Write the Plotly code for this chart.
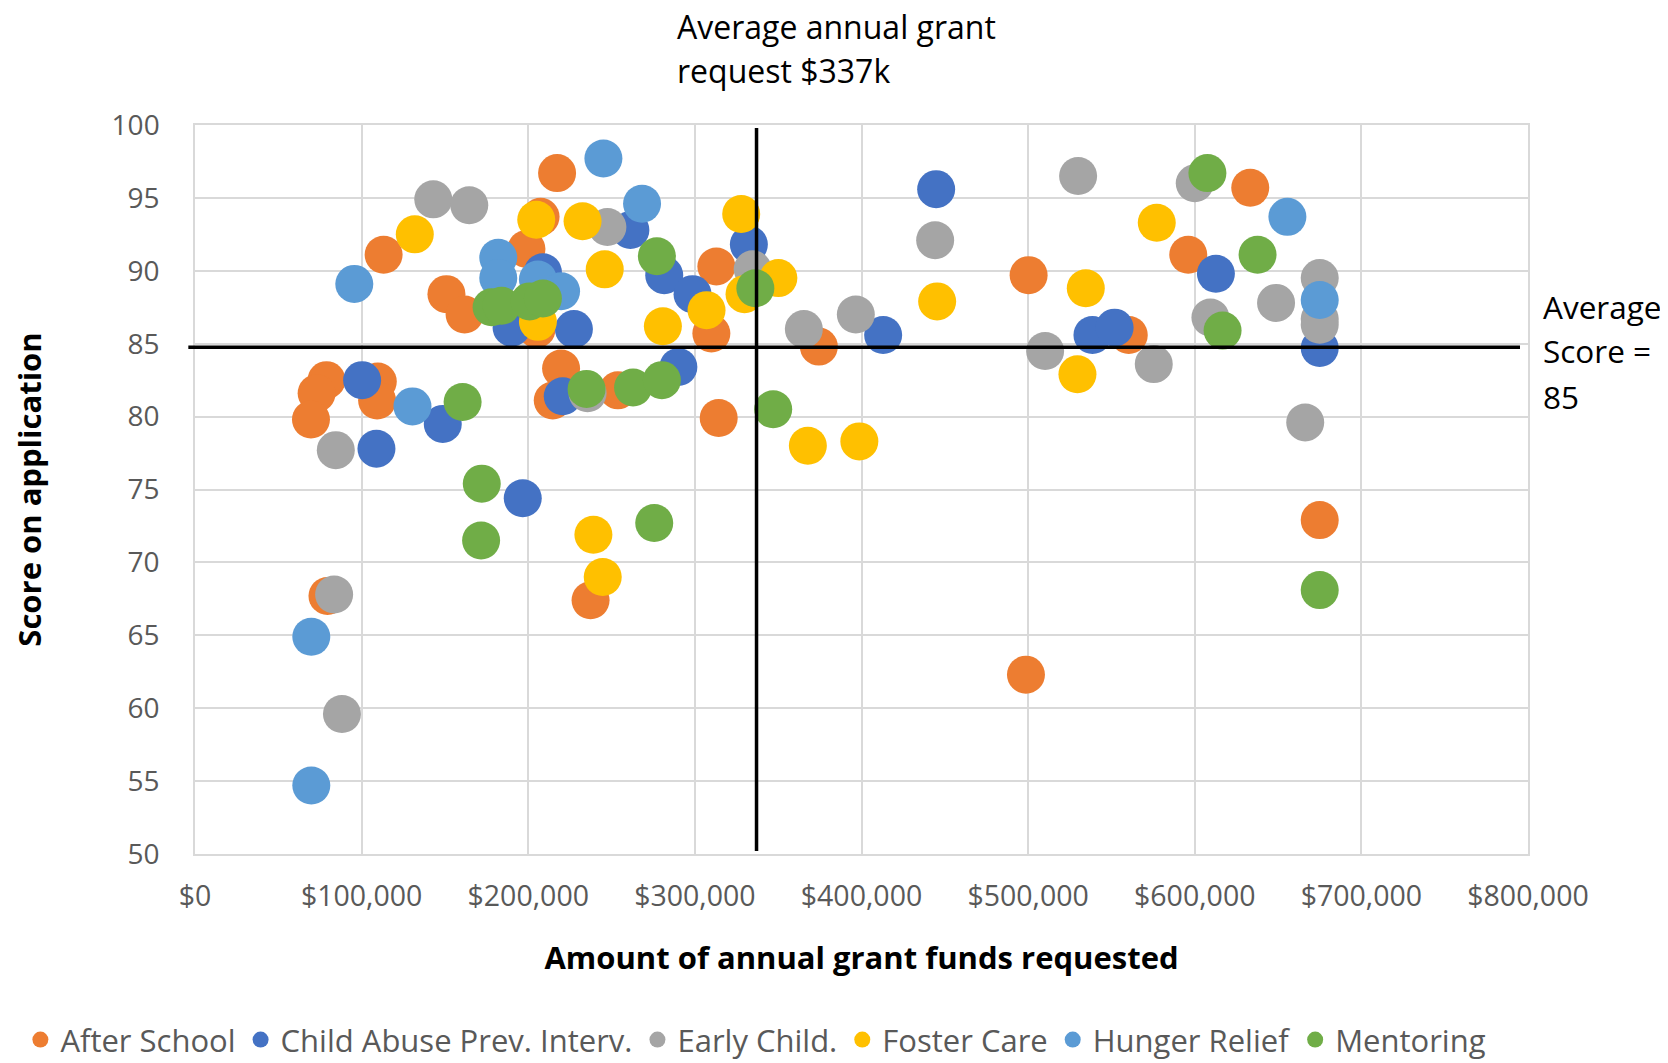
import plotly.graph_objects as go

# ---------------- data ----------------
series_names = ["After School", "Child Abuse Prev. Interv.", "Early Child.",
                "Foster Care", "Hunger Relief", "Mentoring"]
series_colors = ["#ED7D31", "#4472C4", "#A5A5A5", "#FFC000", "#5B9BD5", "#70AD47"]

after_school_x = [217300, 207400, 113200, 198900, 150900, 161800, 205000, 78900, 73000,
                  69600, 109700, 109300, 219700, 214700, 79500, 237400, 314300, 309900,
                  312900, 253800, 374400, 500300, 560400, 596100, 633300, 675000, 498700]
after_school_y = [96.7, 93.7, 91.1, 91.5, 88.4, 87.0, 86.0, 82.5, 81.6,
                  79.8, 82.4, 81.1, 83.3, 81.1, 67.7, 67.4, 79.9, 85.7,
                  90.3, 81.8, 84.8, 89.7, 85.6, 91.1, 95.7, 72.9, 62.3]

child_abuse_x = [208800, 190000, 227400, 100300, 148700, 108900, 196700, 220700, 261300,
                 281600, 298600, 332400, 290100, 413000, 444800, 538600, 551900, 612700, 675000]
child_abuse_y = [89.9, 86.1, 86.0, 82.5, 79.5, 77.8, 74.4, 81.4, 92.8,
                 89.7, 88.4, 91.8, 83.4, 85.6, 95.6, 85.6, 86.1, 89.8, 84.7]

early_child_x = [143000, 164600, 84500, 83500, 88200, 247500, 235600, 334700, 365400,
                 396600, 444200, 530000, 510200, 575400, 600000, 609400, 648800, 666300,
                 675000, 675000, 675000]
early_child_y = [94.9, 94.5, 77.7, 67.8, 59.6, 93.0, 81.6, 90.1, 86.0,
                 87.0, 92.1, 96.5, 84.5, 83.6, 96.0, 86.8, 87.8, 79.6,
                 89.5, 86.7, 86.3]

foster_care_x = [131900, 204800, 232600, 245900, 205800, 280800, 307000, 327800, 350100,
                 329800, 367800, 398700, 239100, 244700, 445400, 534600, 529600, 577200]
foster_care_y = [92.5, 93.5, 93.4, 90.1, 86.5, 86.2, 87.3, 93.9, 89.5,
                 88.4, 78.0, 78.3, 71.9, 69.0, 87.9, 88.8, 82.9, 93.3]

hunger_relief_x = [95600, 182000, 182000, 205800, 219700, 130500, 69800, 69800,
                   245100, 268300, 655600, 675000]
hunger_relief_y = [89.1, 90.9, 89.5, 89.4, 88.6, 80.7, 64.9, 54.7,
                   97.7, 94.6, 93.7, 88.0]

mentoring_x = [178000, 184000, 200800, 208800, 160600, 172100, 171700, 235000, 262900,
               280200, 277200, 336300, 347000, 275600, 607600, 637700, 616700, 675000]
mentoring_y = [87.5, 87.6, 87.9, 88.1, 81.0, 75.4, 71.5, 81.9, 82.0,
               82.5, 91.0, 88.8, 80.5, 72.7, 96.7, 91.1, 85.9, 68.1]

avg_request = 337000
avg_score = 84.75

x_tick_vals = [0, 100000, 200000, 300000, 400000, 500000, 600000, 700000, 800000]
x_tick_text = ["$0", "$100,000", "$200,000", "$300,000", "$400,000",
               "$500,000", "$600,000", "$700,000", "$800,000"]
y_tick_vals = [50, 55, 60, 65, 70, 75, 80, 85, 90, 95, 100]

all_x = [after_school_x, child_abuse_x, early_child_x, foster_care_x, hunger_relief_x, mentoring_x]
all_y = [after_school_y, child_abuse_y, early_child_y, foster_care_y, hunger_relief_y, mentoring_y]

# ---------------- figure ----------------
FONT = "Open Sans"
fig = go.Figure()
for name, color, xs, ys in zip(series_names, series_colors, all_x, all_y):
    fig.add_trace(go.Scatter(
        x=xs, y=ys, mode="markers", name=name,
        marker=dict(color=color, size=38, line=dict(width=0)),
        cliponaxis=False,
    ))

# average lines
fig.add_shape(type="line", xref="x", yref="y", x0=avg_request, x1=avg_request,
              y0=50.2, y1=99.8, line=dict(color="black", width=3.5), layer="above")
fig.add_shape(type="line", xref="paper", yref="y", x0=-0.005, x1=0.994,
              y0=avg_score, y1=avg_score, line=dict(color="black", width=3.5), layer="above")

ann_font = dict(family=FONT, size=32, color="black")
for txt, yy in [("Average annual grant", 1.1357), ("request $337k", 1.075)]:
    fig.add_annotation(text=txt, xref="paper", yref="paper", x=0.360, y=yy,
                       xanchor="left", yanchor="middle", showarrow=False, font=ann_font)
ann_font_r = dict(family=FONT, size=31.5, color="black")
for txt, yy in [("Average", 0.7517), ("Score =", 0.6903), ("85", 0.6276)]:
    fig.add_annotation(text=txt, xref="paper", yref="paper", x=1.0097, y=yy,
                       xanchor="left", yanchor="middle", showarrow=False, font=ann_font_r)

fig.update_layout(
    width=1668, height=1071,
    margin=dict(l=176, r=148, t=117, b=221),
    paper_bgcolor="white", plot_bgcolor="white",
    font=dict(family=FONT, size=28, color="#595959"),
    showlegend=True,
    legend=dict(orientation="h", xref="paper", yref="paper",
                x=-0.131, y=-0.2551, xanchor="left", yanchor="middle",
                font=dict(family=FONT, size=31, color="#595959"),
                itemsizing="trace", itemwidth=30),
    xaxis=dict(range=[0, 800000], tickvals=x_tick_vals, ticktext=x_tick_text,
               tickangle=0,
               showgrid=True, gridcolor="#D9D9D9", gridwidth=1.5,
               showline=True, linecolor="#D9D9D9", linewidth=1.5, mirror=True,
               zeroline=False, ticks="", ticklabelstandoff=16,
               tickfont=dict(family=FONT, size=28.5, color="#595959"),
               title=dict(text="<b>Amount of annual grant funds requested</b>",
                          font=dict(family=FONT, size=31, color="black"), standoff=34)),
    yaxis=dict(range=[50, 100], tickvals=y_tick_vals,
               showgrid=True, gridcolor="#D9D9D9", gridwidth=1.5,
               showline=True, linecolor="#D9D9D9", linewidth=1.5, mirror=True,
               zeroline=False, ticks="", ticklabelstandoff=28,
               tickfont=dict(family=FONT, size=28, color="#595959"),
               title=dict(text="<b>Score on application</b>",
                          font=dict(family=FONT, size=31, color="black"), standoff=62)),
)

fig.write_html("out.html")
